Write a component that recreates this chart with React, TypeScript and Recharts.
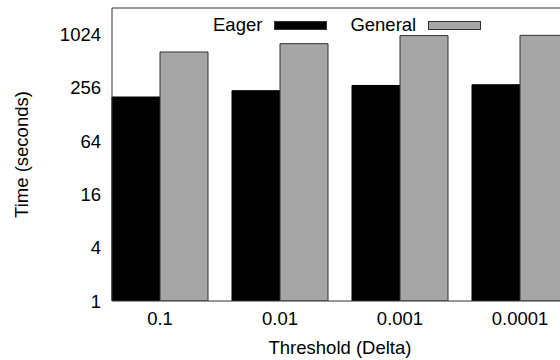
import React from 'react'
import { BarChart, Bar, XAxis, YAxis, Legend, Label, ReferenceLine } from 'recharts'

const thresholds = ['0.1', '0.01', '0.001', '0.0001']
const eagerTimes = [202, 238, 273, 278]
const generalTimes = [652, 810, 998, 1005]
const yTicks = [1, 4, 16, 64, 256, 1024]

const data = thresholds.map((t, i) => ({
  name: t,
  Eager: eagerTimes[i],
  General: generalTimes[i],
}))

const FONT = '"Liberation Sans", Arial, Helvetica, sans-serif'

const LegendContent = (props: any) => {
  const items = props.payload || []
  return (
    <div style={{ display: 'flex', alignItems: 'center', fontFamily: FONT, fontSize: 18.5, color: '#000' }}>
      {items.map((it: any, i: number) => (
        <div key={it.value} style={{ display: 'flex', alignItems: 'center', marginLeft: i === 0 ? 0 : 23 }}>
          <span style={{ lineHeight: '20px' }}>{it.value}</span>
          <span
            style={{
              display: 'inline-block',
              width: 53,
              height: 9,
              marginLeft: 12,
              background: it.color,
              border: '1px solid #333',
              boxSizing: 'border-box',
            }}
          />
        </div>
      ))}
    </div>
  )
}

const App: React.FC = () => {
  return (
    <div style={{ position: 'absolute', left: 0, top: 0, width: 560, height: 360, overflow: 'hidden', background: '#fff' }}>
      <BarChart
        width={580}
        height={360}
        data={data}
        margin={{ top: 8, right: 12, bottom: 0, left: 0 }}
        barGap={0}
        barSize={48}
      >
        <XAxis
          dataKey="name"
          height={59}
          padding={{ left: -12, right: -12 }}
          tickLine={false}
          tickSize={0}
          tickMargin={11}
          axisLine={{ stroke: '#333', strokeWidth: 1 }}
          tick={{ fill: '#000', fontSize: 18.5, fontFamily: FONT }}
        >
          <Label
            value="Threshold (Delta)"
            position="insideBottom"
            offset={6}
            style={{ fill: '#000', fontSize: 18.5, fontFamily: FONT }}
          />
        </XAxis>
        <YAxis
          scale="log"
          domain={[1, 2048]}
          ticks={yTicks}
          allowDataOverflow
          width={112}
          tickLine={false}
          tickSize={0}
          tickMargin={11}
          axisLine={{ stroke: '#333', strokeWidth: 1 }}
          tick={{ fill: '#000', fontSize: 18.5, fontFamily: FONT }}
        >
          <Label
            value="Time (seconds)"
            angle={-90}
            position="insideLeft"
            offset={21}
            style={{ fill: '#000', fontSize: 18.5, fontFamily: FONT, textAnchor: 'middle' }}
          />
        </YAxis>
        <ReferenceLine y={2048} stroke="#333" strokeWidth={1} ifOverflow="visible" />
        <Legend
          layout="vertical"
          align="center"
          verticalAlign="middle"
          content={<LegendContent />}
          wrapperStyle={{ top: 15, left: 213, width: 330, height: 20 }}
        />
        <Bar dataKey="Eager" fill="#000000" stroke="#000000" strokeWidth={1} isAnimationActive={false} />
        <Bar dataKey="General" fill="#a6a6a6" stroke="#333333" strokeWidth={1} isAnimationActive={false} />
      </BarChart>
    </div>
  )
}

export default App
